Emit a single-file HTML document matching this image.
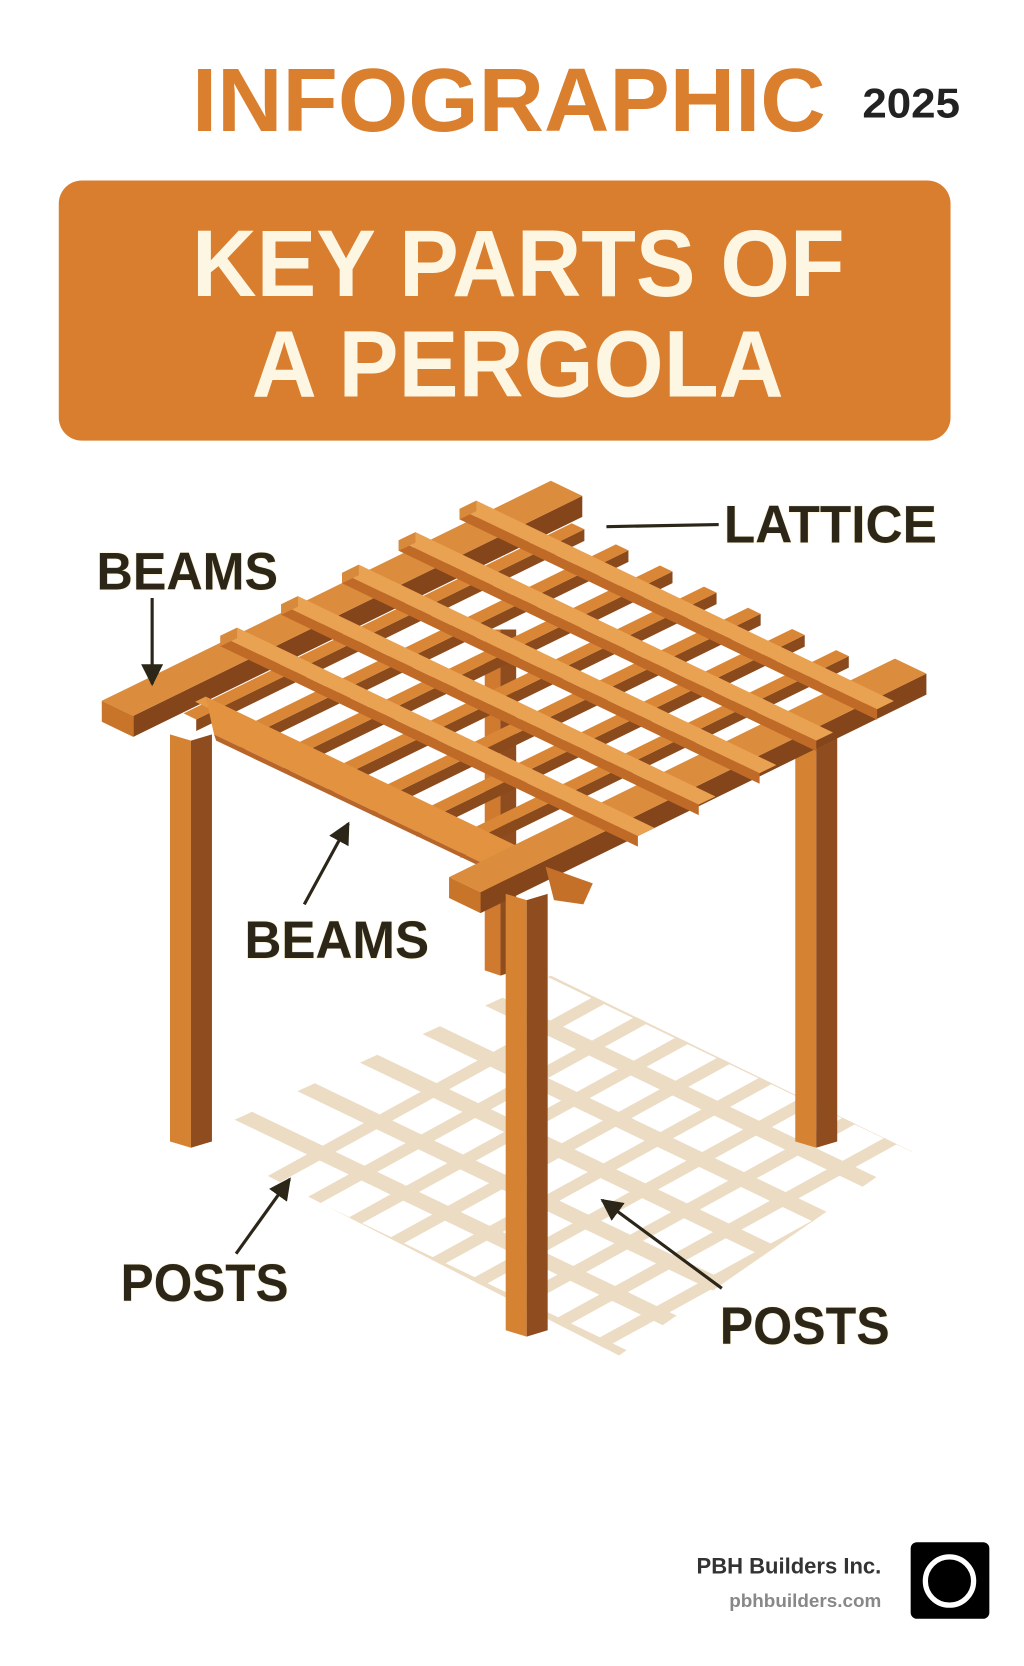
<!DOCTYPE html>
<html><head><meta charset="utf-8"><style>
html,body{margin:0;padding:0;background:#fff;width:1024px;height:1666px;overflow:hidden}
svg{display:block}
text{font-family:"Liberation Sans","DejaVu Sans",sans-serif;font-weight:bold}
</style></head><body>
<svg id="s" width="1024" height="1666" viewBox="0 0 976 1588" xmlns="http://www.w3.org/2000/svg">
<rect width="976" height="1588" fill="#fff"/>
<defs>
<clipPath id="shc"><polygon points="185,1085 590,1292 870,1098 525,930"/></clipPath>
<marker id="ah" viewBox="0 0 10 10" refX="9" refY="5" markerWidth="7" markerHeight="7" orient="auto"><path d="M0,0L10,5L0,10z" fill="#2b2618"/></marker>
</defs>
<text x="183" y="125" font-size="86" fill="#DA7F2E" textLength="604" lengthAdjust="spacingAndGlyphs">INFOGRAPHIC</text>
<text x="822" y="112" font-size="40" fill="#222" textLength="93" lengthAdjust="spacingAndGlyphs">2025</text>
<rect x="56" y="172" width="850" height="248" rx="22" fill="#D97E2E"/>
<text x="183" y="282" font-size="90" fill="#FDF6E3" textLength="622" lengthAdjust="spacingAndGlyphs">KEY PARTS OF</text>
<text x="240" y="378" font-size="90" fill="#FDF6E3" textLength="507" lengthAdjust="spacingAndGlyphs">A PERGOLA</text>
<g id="shadow" clip-path="url(#shc)"></g>
<g id="wood"></g>
<g fill="#2b2618" stroke="#fdf3d8" stroke-width="1.5" paint-order="stroke">
<text x="92" y="562" font-size="50" textLength="173" lengthAdjust="spacingAndGlyphs">BEAMS</text>
<text x="690" y="517" font-size="50" textLength="203" lengthAdjust="spacingAndGlyphs">LATTICE</text>
<text x="233" y="913" font-size="50" textLength="176" lengthAdjust="spacingAndGlyphs">BEAMS</text>
<text x="115" y="1240" font-size="50" textLength="160" lengthAdjust="spacingAndGlyphs">POSTS</text>
<text x="686" y="1281" font-size="50" textLength="162" lengthAdjust="spacingAndGlyphs">POSTS</text>
</g>
<g stroke="#2b2618" stroke-width="3" fill="none">
<line x1="145" y1="570" x2="145" y2="652" marker-end="url(#ah)"/>
<line x1="685" y1="500" x2="578" y2="502"/>
<line x1="290" y1="862" x2="332" y2="785" marker-end="url(#ah)"/>
<line x1="225" y1="1195" x2="276" y2="1124" marker-end="url(#ah)"/>
<line x1="688" y1="1228" x2="574" y2="1144" marker-end="url(#ah)"/>
</g>
<text x="840" y="1500" font-size="21" fill="#333" text-anchor="end">PBH Builders Inc.</text>
<text x="840" y="1532" font-size="18" fill="#888" font-weight="normal" text-anchor="end">pbhbuilders.com</text>
<rect x="868" y="1470" width="75" height="73" rx="6" fill="#000"/>
<circle cx="905" cy="1507" r="23" fill="none" stroke="#fff" stroke-width="5"/>
</svg>
<script>
const NS="http://www.w3.org/2000/svg";
const W=document.getElementById('wood'),S=document.getElementById('shadow');
function poly(g,pts,fill){const p=document.createElementNS(NS,'polygon');p.setAttribute('points',pts.map(q=>q[0].toFixed(1)+','+q[1].toFixed(1)).join(' '));p.setAttribute('fill',fill);g.appendChild(p);}
const A=[1,0.48],B=[1,-0.49];
function add(p,d,k){return [p[0]+d[0]*k,p[1]+d[1]*k];}
function beam(P,dir,len,wd,w,h,top,side,endc){
  const Q=add(P,dir,len),P2=add(P,wd,w),Q2=add(Q,wd,w);
  let e1=P,e2=Q; if(P2[1]>P[1]){e1=P2;e2=Q2;}
  poly(W,[e1,e2,[e2[0],e2[1]+h],[e1[0],e1[1]+h]],side);
  poly(W,[P,Q,Q2,P2],top);
  if(endc){poly(W,[P,P2,[P2[0],P2[1]+h],[P[0],P[1]+h]],endc);}
}
function sline(p1,p2,w){const l=document.createElementNS(NS,'line');l.setAttribute('x1',p1[0]);l.setAttribute('y1',p1[1]);l.setAttribute('x2',p2[0]);l.setAttribute('y2',p2[1]);l.setAttribute('stroke','#ECDCC4');l.setAttribute('stroke-width',w);S.appendChild(l);}
// shadow: lines along A and lines along -0.55 slope
for(let i=0;i<7;i++){const st=[150+i*58,1080-i*28];sline(st,add(st,A,500),14);}
for(let i=0;i<12;i++){const st=[250+i*40,1130+i*19];sline(st,[st[0]+400,st[1]-220],11);}
// back post
poly(W,[[462,600],[477,600],[477,930],[462,925]],'#D07A30');
poly(W,[[477,600],[492,600],[492,925],[477,930]],'#8F4C1E');
function post(x,y1,y2){poly(W,[[x,y1],[x+20,y1+6],[x+20,y2+4],[x,y2-2]],'#D58333');poly(W,[[x+20,y1+6],[x+40,y1],[x+40,y2-2],[x+20,y2+4]],'#8F4C1E');}
post(162,700,1090);post(758,700,1090);
beam([97,668],B,428,A,30,20,'#DB8C3C','#85451B','#C87429');
for(let i=0;i<8;i++){const x=175+i*42;const P=[x,680+(x-175)*0.48];beam(P,B,370,A,12,11,'#D98736','#8A4A1C');}
beam([196,664],A,300,B,-10,0,'#E59A48','#E59A48');
poly(W,[[196,664],[496,808],[496,840],[204,700]],'#E3923F');
poly(W,[[204,700],[496,840],[496,844],[206,706]],'#B8652A');
beam([428,836],B,425,A,30,20,'#DB8C3C','#85451B','#C87429');
const ts=[[210,606],[268,576],[326,546],[380,515],[438,485]];
ts.forEach(p=>beam(p,A,398,B,16,10,'#E9A152','#C06A28','#D88A3C'));
post(482,852,1270);
poly(W,[[520,826],[565,842],[556,862],[528,858]],'#C47029');
</script>
</body></html>
